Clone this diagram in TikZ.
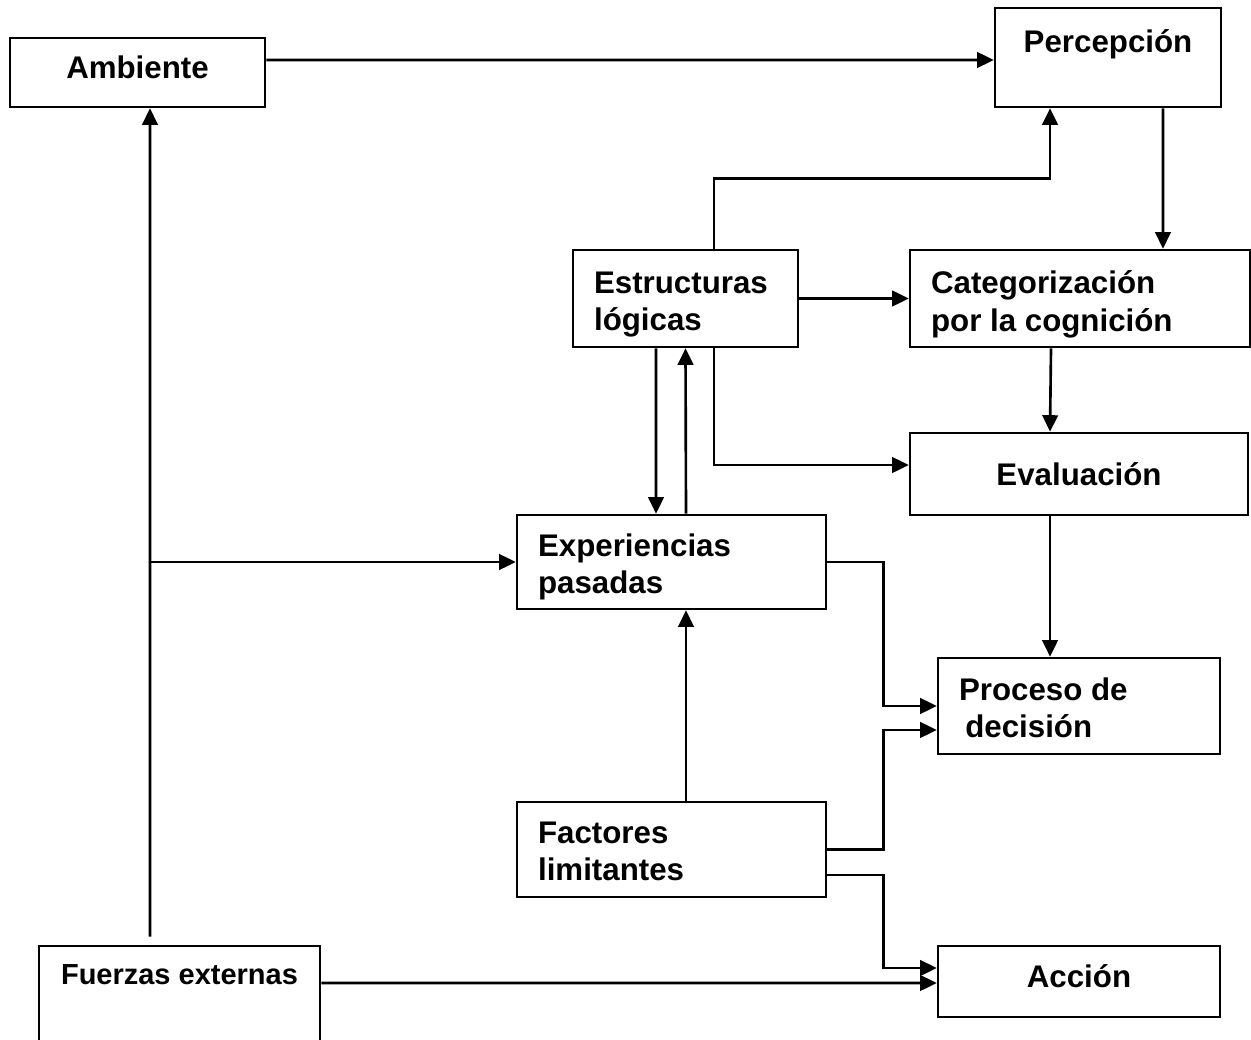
\documentclass[tikz,border=0pt]{standalone}
\usepackage{fontspec}
\setmainfont{Liberation Sans}
\usetikzlibrary{arrows.meta}
\usetikzlibrary{positioning}

\begin{document}
\begin{tikzpicture}[x=0.02cm, y=-0.02cm]
        \tikzset{box/.style={rectangle, draw=black, line width=1.5pt, inner sep=0pt},
                every label/.style={font=\fontsize{17.8}{21.4}\selectfont\bfseries, inner sep=0pt},
                tag/.style={anchor=west, xshift=0.44cm, align=left},
                >={Triangle[length=0.33cm, width=0.31cm]},
                link/.style={draw=black, line width=1.5pt, ->}}

        \clip (0,0) rectangle (1251,1040);

        \node[box, minimum width=5.1cm, minimum height=1.38cm,
                label={[name=1l, yshift=0.1cm]center:Ambiente}] (1) at (137.5, 72.5) {};
        \node[box, minimum width=4.52cm, minimum height=1.98cm,
                label={[name=2l, anchor=north, yshift=-0.46cm]north:Percepción}] (2) at (1108, 57.5) {};
        \node[box, minimum width=4.5cm, minimum height=1.94cm,
                label={[name=3l, tag, yshift=-0.12cm]west:Estructuras\\lógicas}] (3) at (685.5, 298.5) {};
        \node[box, minimum width=6.8cm, minimum height=1.94cm,
                label={[name=4l, tag, yshift=-0.12cm]west:Categorización\\por la cognición}] (4) at (1080, 298.5) {};
        \node[box, minimum width=6.76cm, minimum height=1.64cm,
                label={[name=5l]center:Evaluación}] (5) at (1079, 474) {};
        \node[box, minimum width=6.18cm, minimum height=1.88cm,
                label={[name=6l, tag, yshift=-0.1cm]west:Experiencias\\pasadas}] (6) at (671.5, 562) {};
        \node[box, minimum width=5.64cm, minimum height=1.92cm,
                label={[name=7l, tag, yshift=-0.04cm]west:Proceso de\\\hspace*{0.2em}decisión}] (7) at (1079, 706) {};
        \node[box, minimum width=6.18cm, minimum height=1.9cm,
                label={[name=8l, tag, yshift=-0.04cm]west:Factores\\limitantes}] (8) at (671.5, 849.5) {};
        \node[box, minimum width=5.62cm, minimum height=1.96cm,
                label={[name=9l, anchor=north, yshift=-0.4cm, font=\fontsize{16.5}{20}\selectfont\bfseries]north:Fuerzas externas}] (9) at (179.5, 995) {};
        \node[box, minimum width=5.64cm, minimum height=1.42cm,
                label={[name=10l, yshift=0.1cm]center:Acción}] (10) at (1079, 981.5) {};

        \path[link] ([yshift=0.25cm]1.east) -- ([yshift=-0.05cm]2.west);
        \path[link] ([xshift=-0.59cm, yshift=0.16cm]9.north) -- ([xshift=0.25cm]1.south);
        \path[link] ([xshift=-7.34cm]6.west) -- (6.west);
        \path[link] ([yshift=0.24cm]9.east) -- ([yshift=-0.03cm]10.west);
        \path[link] ([xshift=1.1cm]2.south) -- ([xshift=1.66cm]4.north);
        \path[link] ([xshift=0.57cm]3.north) -- ++(0cm, 1.4cm) -| ([xshift=-1.16cm]2.south);
        \path[link] (3.east) -- (4.west);
        \path[link] ([xshift=-0.58cm]4.south) -- ([xshift=-0.58cm]5.north);
        \path[link] ([xshift=0.57cm]3.south) |- ([yshift=0.18cm]5.west);
        \path[link] ([xshift=-0.59cm]3.south) -- ([xshift=-0.31cm]6.north);
        \path[link] ([xshift=0.29cm]6.north) -- (3.south);
        \path[link] ([xshift=-0.58cm]5.south) -- ([xshift=-0.58cm]7.north);
        \path[link] (6.east) -- ++(1.12cm, 0cm) |- (7.west);
        \path[link] (8.east) -- ++(1.12cm, 0cm) |- ([yshift=-0.48cm]7.west);
        \path[link] ([xshift=0.29cm]8.north) -- ([xshift=0.29cm]6.south);
        \path[link] ([yshift=-0.51cm]8.east) -- ++(1.12cm, 0cm) |- ([yshift=0.27cm]10.west);

    \end{tikzpicture}
\end{document}
